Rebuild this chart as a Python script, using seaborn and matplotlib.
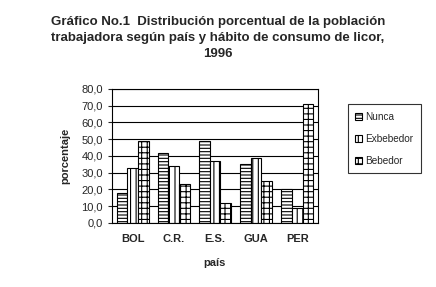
import matplotlib
matplotlib.use("Agg")
import matplotlib.pyplot as plt
import seaborn as sns
import pandas as pd
from matplotlib.ticker import FuncFormatter

paises = ["BOL", "C.R.", "E.S.", "GUA", "PER"]
nunca = [18, 42, 49, 35, 20]
exbebedor = [33, 34, 37, 39, 9]
bebedor = [49, 23, 12, 25, 71]
series = ["Nunca", "Exbebedor", "Bebedor"]

rows = []
for s, vals in zip(series, [nunca, exbebedor, bebedor]):
    for p, v in zip(paises, vals):
        rows.append({"país": p, "habito": s, "porcentaje": v})
df = pd.DataFrame(rows)

sns.set_style("white")
plt.rcParams['font.family'] = ['Liberation Sans', 'DejaVu Sans']
plt.rcParams['hatch.linewidth'] = 0.8

fig = plt.figure(figsize=(4.36, 2.87), dpi=100)
ax = fig.add_axes([0.257, 0.223, 0.472, 0.467])
sns.barplot(data=df, x="país", y="porcentaje", hue="habito", order=paises,
            hue_order=series, palette=["white"] * 3, edgecolor="black",
            linewidth=0.8, width=0.78, ax=ax, legend=True)

hatches = {"Nunca": "-----", "Exbebedor": "|||", "Bebedor": "+++"}
for cont, s in zip(ax.containers, series):
    for bar in cont:
        bar.set_hatch(hatches[s])

ax.set_ylim(0, 80)
ax.set_yticks(range(0, 81, 10))
ax.yaxis.set_major_formatter(FuncFormatter(lambda v, p: f"{v:.1f}".replace(".", ",")))
ax.yaxis.grid(True, color="black", linewidth=0.8)
ax.set_axisbelow(True)
for sp in ax.spines.values():
    sp.set_color("black")
    sp.set_linewidth(0.8)
ax.tick_params(axis="y", labelsize=8, length=3, direction="out", left=True)
ax.tick_params(axis="x", labelsize=8, length=0, pad=8)
for t in ax.get_xticklabels():
    t.set_fontweight("bold")
ax.set_xlabel("país", fontsize=8, fontweight="bold", labelpad=10)
ax.set_ylabel("porcentaje", fontsize=8, fontweight="bold", labelpad=8)

leg = ax.legend(loc="upper left", bbox_to_anchor=(1.13, 0.91), frameon=True,
                fontsize=7.2, fancybox=False, edgecolor="black",
                handlelength=0.7, handleheight=0.7, handletextpad=0.3,
                labelspacing=1.2, borderpad=0.75, borderaxespad=0.3, title=None)
leg.get_frame().set_linewidth(0.8)
for h, s in zip(leg.get_patches(), series):
    h.set_hatch(hatches[s])
    h.set_facecolor("white")
    h.set_edgecolor("black")

fig.text(0.5, 0.945, "Gráfico No.1  Distribución porcentual de la población\n"
         "trabajadora según país y hábito de consumo de licor,\n1996",
         ha="center", va="top", fontsize=9.5, fontweight="bold", linespacing=1.45)

fig.savefig("out.png", dpi=100)
